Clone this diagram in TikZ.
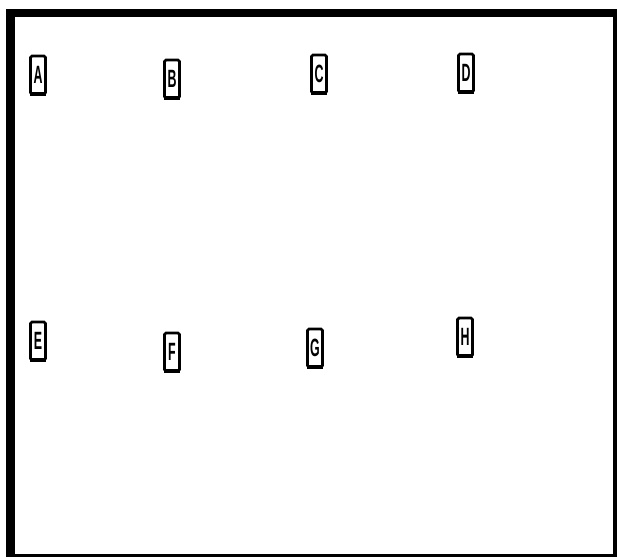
\documentclass[tikz,border=0pt]{standalone}
\usepackage{fontspec}
\setmainfont{Liberation Sans}
\usepackage{tikz}
\definecolor{ink}{HTML}{000000}
\tikzset{
  letterbox/.style={draw=ink, line width=2.8pt, rounded corners=1.5pt, fill=white,
    minimum width=15pt, minimum height=38pt, inner sep=0pt,
    font=\fontsize{20}{20}\selectfont\bfseries},
}
\newcommand{\tall}[1]{\scalebox{0.62}[1.25]{#1}}

\begin{document}
\begin{tikzpicture}[x=1pt, y=-1pt]
        \useasboundingbox (0,0) rectangle (617,558);
        \fill[ink] (6,9) rectangle (617,557);
        \fill[white] (15,17) rectangle (613,554);
        \node[letterbox] (a) at (38,75) {\tall{A}};
        \node[letterbox] (b) at (172,79) {\tall{B}};
        \node[letterbox] (c) at (319,74) {\tall{C}};
        \node[letterbox] (d) at (466,73) {\tall{D}};
        \node[letterbox] (e) at (38,341) {\tall{E}};
        \node[letterbox] (f) at (172,352) {\tall{F}};
        \node[letterbox] (g) at (315,348) {\tall{G}};
        \node[letterbox] (h) at (465,337) {\tall{H}};
        \foreach \n in {a,b,c,d,e,f,g,h}
          \draw[ink, line width=4pt] ([xshift=1pt,yshift=1pt]\n.south west) -- ([xshift=-1pt,yshift=1pt]\n.south east);
      \end{tikzpicture}
\end{document}
